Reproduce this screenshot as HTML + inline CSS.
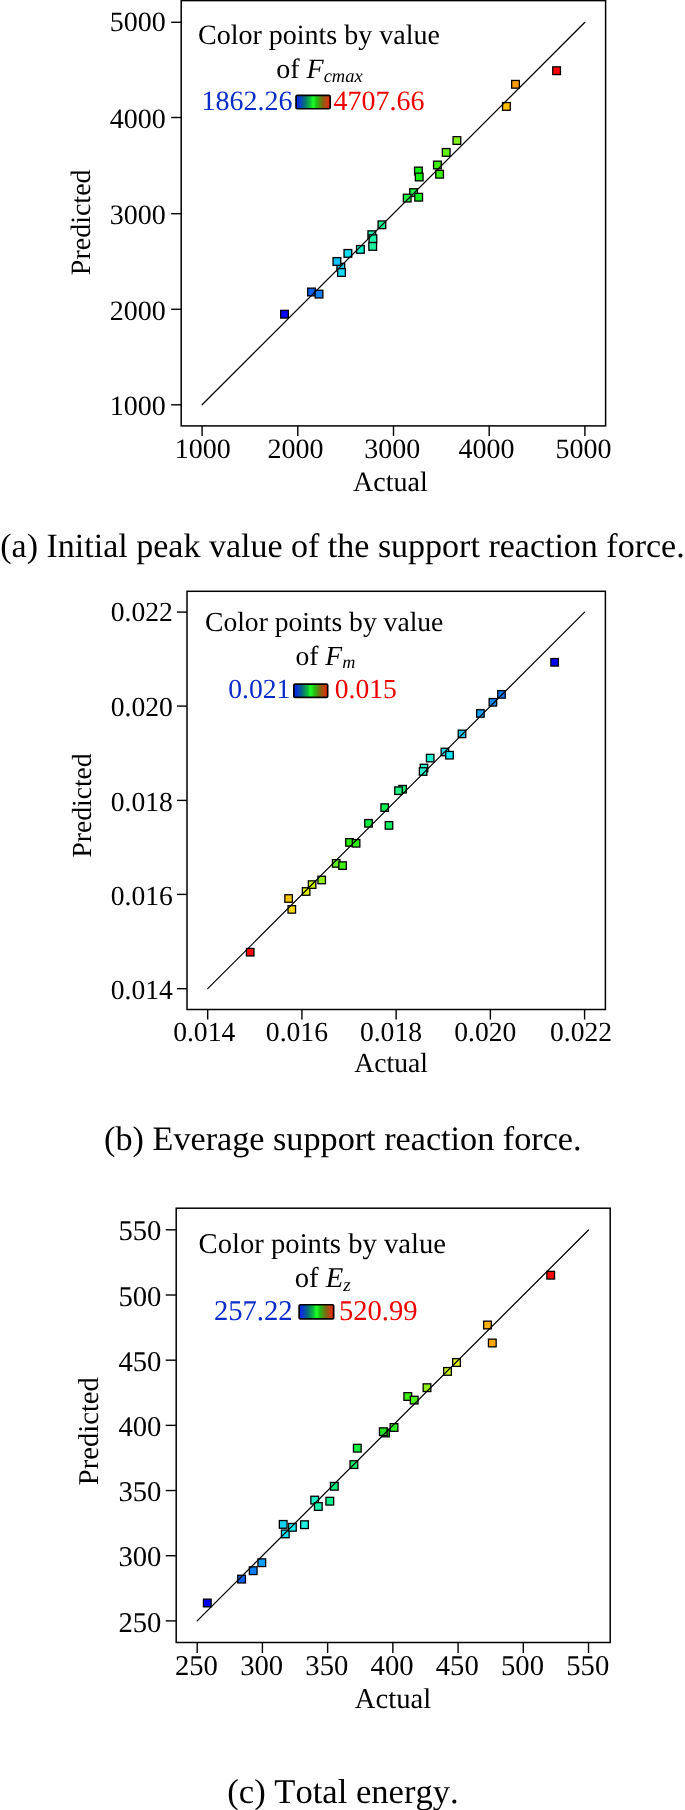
<!DOCTYPE html>
<html><head><meta charset="utf-8"><title>Predicted vs Actual</title>
<style>
html,body{margin:0;padding:0;background:#fff;}
body{width:685px;height:1810px;overflow:hidden;}
svg{display:block;will-change:transform;}
text{font-family:"Liberation Serif", serif;fill:#000;text-rendering:geometricPrecision;font-kerning:none;}
.k{stroke:#000;stroke-width:1.4;}
</style></head><body>
<svg width="685" height="1810" viewBox="0 0 685 1810">
<defs>
<linearGradient id="cg" x1="0" y1="0" x2="1" y2="0">
<stop offset="0" stop-color="#0626ee"/>
<stop offset="0.1" stop-color="#0838d0"/>
<stop offset="0.26" stop-color="#067274"/>
<stop offset="0.41" stop-color="#0cbc3c"/>
<stop offset="0.5" stop-color="#1cff26"/>
<stop offset="0.6" stop-color="#1ec414"/>
<stop offset="0.78" stop-color="#806412"/>
<stop offset="0.92" stop-color="#cc3c10"/>
<stop offset="1" stop-color="#ea2410"/>
</linearGradient>
</defs>
<rect width="685" height="1810" fill="#fff"/>
<line x1="202.1" y1="425.9" x2="202.1" y2="435.9" class="k"/>
<text x="202.8" y="458.2" font-size="28" text-anchor="middle">1000</text>
<line x1="297.8" y1="425.9" x2="297.8" y2="435.9" class="k"/>
<text x="295.5" y="458.2" font-size="28" text-anchor="middle">2000</text>
<line x1="393.5" y1="425.9" x2="393.5" y2="435.9" class="k"/>
<text x="392.2" y="458.2" font-size="28" text-anchor="middle">3000</text>
<line x1="489.2" y1="425.9" x2="489.2" y2="435.9" class="k"/>
<text x="486.4" y="458.2" font-size="28" text-anchor="middle">4000</text>
<line x1="584.9" y1="425.9" x2="584.9" y2="435.9" class="k"/>
<text x="583.6" y="458.2" font-size="28" text-anchor="middle">5000</text>
<line x1="171.2" y1="22.3" x2="181.2" y2="22.3" class="k"/>
<text x="165.8" y="30.7" font-size="28" text-anchor="end">5000</text>
<line x1="171.2" y1="117.5" x2="181.2" y2="117.5" class="k"/>
<text x="165.8" y="127.7" font-size="28" text-anchor="end">4000</text>
<line x1="171.2" y1="213.7" x2="181.2" y2="213.7" class="k"/>
<text x="165.8" y="223.9" font-size="28" text-anchor="end">3000</text>
<line x1="171.2" y1="309.3" x2="181.2" y2="309.3" class="k"/>
<text x="165.8" y="319.5" font-size="28" text-anchor="end">2000</text>
<line x1="171.2" y1="404.8" x2="181.2" y2="404.8" class="k"/>
<text x="165.8" y="415" font-size="28" text-anchor="end">1000</text>
<text x="390.4" y="490.6" font-size="28" text-anchor="middle">Actual</text>
<text transform="translate(90.3,222.3) rotate(-90)" font-size="28" text-anchor="middle">Predicted</text>
<text x="198" y="44.4" font-size="28">Color points by value</text>
<text x="276.2" y="78" font-size="28">of <tspan font-style="italic">F</tspan><tspan font-style="italic" font-size="18.5" dy="3.5">cmax</tspan></text>
<text x="201.4" y="110" font-size="28" style="fill:#0a2cc8">1862.26</text>
<text x="333.4" y="110" font-size="28" style="fill:#ee0000">4707.66</text>
<rect x="296.05" y="95.45" width="34.1" height="13.3" rx="1.2" fill="url(#cg)" stroke="#000" stroke-width="1.7"/>
<rect x="280.65" y="310.35" width="7.7" height="7.7" fill="#0000f0" stroke="#000" stroke-width="1.3"/>
<rect x="307.65" y="288.15" width="7.7" height="7.7" fill="#1060f0" stroke="#000" stroke-width="1.3"/>
<rect x="315.15" y="290.25" width="7.7" height="7.7" fill="#1080ff" stroke="#000" stroke-width="1.3"/>
<rect x="336.95" y="263.35" width="7.7" height="7.7" fill="#10c8f0" stroke="#000" stroke-width="1.3"/>
<rect x="333.05" y="257.65" width="7.7" height="7.7" fill="#10c0f8" stroke="#000" stroke-width="1.3"/>
<rect x="337.65" y="268.65" width="7.7" height="7.7" fill="#10d8f8" stroke="#000" stroke-width="1.3"/>
<rect x="344.05" y="249.55" width="7.7" height="7.7" fill="#10e0f8" stroke="#000" stroke-width="1.3"/>
<rect x="356.55" y="245.55" width="7.7" height="7.7" fill="#10f0d0" stroke="#000" stroke-width="1.3"/>
<rect x="367.95" y="230.85" width="7.7" height="7.7" fill="#20f0b0" stroke="#000" stroke-width="1.3"/>
<rect x="369.05" y="234.85" width="7.7" height="7.7" fill="#20f0a8" stroke="#000" stroke-width="1.3"/>
<rect x="368.85" y="242.55" width="7.7" height="7.7" fill="#20f0a0" stroke="#000" stroke-width="1.3"/>
<rect x="378.05" y="220.95" width="7.7" height="7.7" fill="#20f090" stroke="#000" stroke-width="1.3"/>
<rect x="409.75" y="188.75" width="7.7" height="7.7" fill="#20f040" stroke="#000" stroke-width="1.3"/>
<rect x="403.35" y="194.25" width="7.7" height="7.7" fill="#20f040" stroke="#000" stroke-width="1.3"/>
<rect x="414.85" y="193.35" width="7.7" height="7.7" fill="#10f020" stroke="#000" stroke-width="1.3"/>
<rect x="414.55" y="167.15" width="7.7" height="7.7" fill="#10f010" stroke="#000" stroke-width="1.3"/>
<rect x="415.35" y="173.15" width="7.7" height="7.7" fill="#10f010" stroke="#000" stroke-width="1.3"/>
<rect x="433.55" y="161.15" width="7.7" height="7.7" fill="#40f010" stroke="#000" stroke-width="1.3"/>
<rect x="435.75" y="170.35" width="7.7" height="7.7" fill="#40f010" stroke="#000" stroke-width="1.3"/>
<rect x="442.35" y="148.55" width="7.7" height="7.7" fill="#60f010" stroke="#000" stroke-width="1.3"/>
<rect x="453.05" y="136.65" width="7.7" height="7.7" fill="#80f020" stroke="#000" stroke-width="1.3"/>
<rect x="502.55" y="102.55" width="7.7" height="7.7" fill="#ffc000" stroke="#000" stroke-width="1.3"/>
<rect x="511.65" y="80.45" width="7.7" height="7.7" fill="#ff9900" stroke="#000" stroke-width="1.3"/>
<rect x="552.75" y="66.85" width="7.7" height="7.7" fill="#ff0000" stroke="#000" stroke-width="1.3"/>
<line x1="202.1" y1="404.8" x2="584.9" y2="22.3" stroke="#000" stroke-width="1.25" stroke-linecap="round"/>
<rect x="181.2" y="0.6" width="424.4" height="425.3" fill="none" stroke="#000" stroke-width="1.5"/>
<text x="342.5" y="556.5" font-size="34" text-anchor="middle">(a) Initial peak value of the support reaction force.</text>
<line x1="207.7" y1="1009.5" x2="207.7" y2="1019.5" class="k"/>
<text x="204.2" y="1040.6" font-size="27.6" text-anchor="middle">0.014</text>
<line x1="301.92" y1="1009.5" x2="301.92" y2="1019.5" class="k"/>
<text x="296.92" y="1040.6" font-size="27.6" text-anchor="middle">0.016</text>
<line x1="396.14" y1="1009.5" x2="396.14" y2="1019.5" class="k"/>
<text x="390.94" y="1040.6" font-size="27.6" text-anchor="middle">0.018</text>
<line x1="490.36" y1="1009.5" x2="490.36" y2="1019.5" class="k"/>
<text x="485.36" y="1040.6" font-size="27.6" text-anchor="middle">0.020</text>
<line x1="584.58" y1="1009.5" x2="584.58" y2="1019.5" class="k"/>
<text x="581.08" y="1040.6" font-size="27.6" text-anchor="middle">0.022</text>
<line x1="177" y1="612.1" x2="187" y2="612.1" class="k"/>
<text x="172.8" y="620.7" font-size="27.6" text-anchor="end">0.022</text>
<line x1="177" y1="706.1" x2="187" y2="706.1" class="k"/>
<text x="172.8" y="716.3" font-size="27.6" text-anchor="end">0.020</text>
<line x1="177" y1="800.4" x2="187" y2="800.4" class="k"/>
<text x="172.8" y="810.6" font-size="27.6" text-anchor="end">0.018</text>
<line x1="177" y1="894.4" x2="187" y2="894.4" class="k"/>
<text x="172.8" y="904.6" font-size="27.6" text-anchor="end">0.016</text>
<line x1="177" y1="988.7" x2="187" y2="988.7" class="k"/>
<text x="172.8" y="998.9" font-size="27.6" text-anchor="end">0.014</text>
<text x="391.1" y="1072.3" font-size="27.6" text-anchor="middle">Actual</text>
<text transform="translate(90.7,805.5) rotate(-90)" font-size="27.6" text-anchor="middle">Predicted</text>
<text x="205" y="631.2" font-size="27.6">Color points by value</text>
<text x="295.4" y="665.4" font-size="27.6">of <tspan font-style="italic">F</tspan><tspan font-style="italic" font-size="18.2" dy="2.9">m</tspan></text>
<text x="228.3" y="697.9" font-size="27.6" style="fill:#0a2cc8">0.021</text>
<text x="334.8" y="697.9" font-size="27.6" style="fill:#ee0000">0.015</text>
<rect x="293.85" y="684.15" width="33.8" height="13.3" rx="1.2" fill="url(#cg)" stroke="#000" stroke-width="1.7"/>
<rect x="246.45" y="948.45" width="7.5" height="7.5" fill="#ff0000" stroke="#000" stroke-width="1.3"/>
<rect x="284.85" y="894.75" width="7.5" height="7.5" fill="#ffc400" stroke="#000" stroke-width="1.3"/>
<rect x="288.05" y="905.65" width="7.5" height="7.5" fill="#ffd800" stroke="#000" stroke-width="1.3"/>
<rect x="302.35" y="887.75" width="7.5" height="7.5" fill="#e0f000" stroke="#000" stroke-width="1.3"/>
<rect x="308.35" y="880.85" width="7.5" height="7.5" fill="#c8f000" stroke="#000" stroke-width="1.3"/>
<rect x="317.95" y="876.25" width="7.5" height="7.5" fill="#90f010" stroke="#000" stroke-width="1.3"/>
<rect x="332.45" y="859.65" width="7.5" height="7.5" fill="#60f020" stroke="#000" stroke-width="1.3"/>
<rect x="338.85" y="861.85" width="7.5" height="7.5" fill="#40f010" stroke="#000" stroke-width="1.3"/>
<rect x="345.75" y="838.65" width="7.5" height="7.5" fill="#30f010" stroke="#000" stroke-width="1.3"/>
<rect x="352.35" y="839.55" width="7.5" height="7.5" fill="#30f010" stroke="#000" stroke-width="1.3"/>
<rect x="364.75" y="819.55" width="7.5" height="7.5" fill="#10f040" stroke="#000" stroke-width="1.3"/>
<rect x="380.95" y="803.85" width="7.5" height="7.5" fill="#10f050" stroke="#000" stroke-width="1.3"/>
<rect x="385.25" y="821.65" width="7.5" height="7.5" fill="#10f060" stroke="#000" stroke-width="1.3"/>
<rect x="398.85" y="785.45" width="7.5" height="7.5" fill="#20f070" stroke="#000" stroke-width="1.3"/>
<rect x="394.75" y="786.95" width="7.5" height="7.5" fill="#20f080" stroke="#000" stroke-width="1.3"/>
<rect x="420.25" y="764.25" width="7.5" height="7.5" fill="#30f0d0" stroke="#000" stroke-width="1.3"/>
<rect x="419.35" y="767.75" width="7.5" height="7.5" fill="#30f0d0" stroke="#000" stroke-width="1.3"/>
<rect x="426.45" y="754.35" width="7.5" height="7.5" fill="#20f0d0" stroke="#000" stroke-width="1.3"/>
<rect x="441.15" y="748.25" width="7.5" height="7.5" fill="#20e0f0" stroke="#000" stroke-width="1.3"/>
<rect x="445.75" y="751.45" width="7.5" height="7.5" fill="#10e8f8" stroke="#000" stroke-width="1.3"/>
<rect x="458.25" y="730.15" width="7.5" height="7.5" fill="#20c0f0" stroke="#000" stroke-width="1.3"/>
<rect x="476.65" y="709.65" width="7.5" height="7.5" fill="#10a0f8" stroke="#000" stroke-width="1.3"/>
<rect x="489.15" y="698.55" width="7.5" height="7.5" fill="#1888f8" stroke="#000" stroke-width="1.3"/>
<rect x="497.75" y="690.65" width="7.5" height="7.5" fill="#1078f8" stroke="#000" stroke-width="1.3"/>
<rect x="550.85" y="658.55" width="7.5" height="7.5" fill="#0000ff" stroke="#000" stroke-width="1.3"/>
<line x1="207.7" y1="988.7" x2="584.6" y2="612.1" stroke="#000" stroke-width="1.15" stroke-linecap="round"/>
<rect x="187" y="591.3" width="418.4" height="418.2" fill="none" stroke="#000" stroke-width="1.5"/>
<text x="342.85" y="1150" font-size="34.2" text-anchor="middle">(b) Everage support reaction force.</text>
<line x1="197.2" y1="1642.5" x2="197.2" y2="1653" class="k"/>
<text x="196.4" y="1674.8" font-size="28.65" text-anchor="middle">250</text>
<line x1="262.42" y1="1642.5" x2="262.42" y2="1653" class="k"/>
<text x="261.62" y="1674.8" font-size="28.65" text-anchor="middle">300</text>
<line x1="327.64" y1="1642.5" x2="327.64" y2="1653" class="k"/>
<text x="326.84" y="1674.8" font-size="28.65" text-anchor="middle">350</text>
<line x1="392.86" y1="1642.5" x2="392.86" y2="1653" class="k"/>
<text x="392.06" y="1674.8" font-size="28.65" text-anchor="middle">400</text>
<line x1="458.08" y1="1642.5" x2="458.08" y2="1653" class="k"/>
<text x="457.28" y="1674.8" font-size="28.65" text-anchor="middle">450</text>
<line x1="523.3" y1="1642.5" x2="523.3" y2="1653" class="k"/>
<text x="522.5" y="1674.8" font-size="28.65" text-anchor="middle">500</text>
<line x1="588.52" y1="1642.5" x2="588.52" y2="1653" class="k"/>
<text x="587.72" y="1674.8" font-size="28.65" text-anchor="middle">550</text>
<line x1="165.7" y1="1229.82" x2="176.2" y2="1229.82" class="k"/>
<text x="161.4" y="1240.42" font-size="28.65" text-anchor="end">550</text>
<line x1="165.7" y1="1295" x2="176.2" y2="1295" class="k"/>
<text x="161.4" y="1305.6" font-size="28.65" text-anchor="end">500</text>
<line x1="165.7" y1="1360.18" x2="176.2" y2="1360.18" class="k"/>
<text x="161.4" y="1370.78" font-size="28.65" text-anchor="end">450</text>
<line x1="165.7" y1="1425.36" x2="176.2" y2="1425.36" class="k"/>
<text x="161.4" y="1435.96" font-size="28.65" text-anchor="end">400</text>
<line x1="165.7" y1="1490.54" x2="176.2" y2="1490.54" class="k"/>
<text x="161.4" y="1501.14" font-size="28.65" text-anchor="end">350</text>
<line x1="165.7" y1="1555.72" x2="176.2" y2="1555.72" class="k"/>
<text x="161.4" y="1566.32" font-size="28.65" text-anchor="end">300</text>
<line x1="165.7" y1="1620.9" x2="176.2" y2="1620.9" class="k"/>
<text x="161.4" y="1631.5" font-size="28.65" text-anchor="end">250</text>
<text x="393" y="1708.4" font-size="28.65" text-anchor="middle">Actual</text>
<text transform="translate(97.7,1431.2) rotate(-90)" font-size="28.65" text-anchor="middle">Predicted</text>
<text x="198.6" y="1252.8" font-size="28.65">Color points by value</text>
<text x="294.8" y="1286.5" font-size="28.65">of <tspan font-style="italic">E</tspan><tspan font-style="italic" font-size="19" dy="4.8">z</tspan></text>
<text x="213.9" y="1320.2" font-size="28.65" style="fill:#0a2cc8">257.22</text>
<text x="338.9" y="1320.2" font-size="28.65" style="fill:#ee0000">520.99</text>
<rect x="299.15" y="1304.75" width="34.5" height="14.1" rx="1.2" fill="url(#cg)" stroke="#000" stroke-width="1.7"/>
<rect x="203.45" y="1599.15" width="7.7" height="7.7" fill="#0000f0" stroke="#000" stroke-width="1.3"/>
<rect x="237.75" y="1575.25" width="7.7" height="7.7" fill="#1060f0" stroke="#000" stroke-width="1.3"/>
<rect x="249.35" y="1566.85" width="7.7" height="7.7" fill="#1080f8" stroke="#000" stroke-width="1.3"/>
<rect x="257.95" y="1558.85" width="7.7" height="7.7" fill="#10a0f8" stroke="#000" stroke-width="1.3"/>
<rect x="279.35" y="1520.55" width="7.7" height="7.7" fill="#18d0f0" stroke="#000" stroke-width="1.3"/>
<rect x="281.45" y="1530.05" width="7.7" height="7.7" fill="#18e0f8" stroke="#000" stroke-width="1.3"/>
<rect x="288.55" y="1523.45" width="7.7" height="7.7" fill="#18f0f8" stroke="#000" stroke-width="1.3"/>
<rect x="300.65" y="1520.85" width="7.7" height="7.7" fill="#20f0e0" stroke="#000" stroke-width="1.3"/>
<rect x="310.85" y="1496.25" width="7.7" height="7.7" fill="#20f0c8" stroke="#000" stroke-width="1.3"/>
<rect x="314.45" y="1502.65" width="7.7" height="7.7" fill="#20f0b0" stroke="#000" stroke-width="1.3"/>
<rect x="325.95" y="1497.35" width="7.7" height="7.7" fill="#10f090" stroke="#000" stroke-width="1.3"/>
<rect x="330.45" y="1482.45" width="7.7" height="7.7" fill="#10f080" stroke="#000" stroke-width="1.3"/>
<rect x="350.05" y="1460.75" width="7.7" height="7.7" fill="#10f060" stroke="#000" stroke-width="1.3"/>
<rect x="353.45" y="1444.35" width="7.7" height="7.7" fill="#10f040" stroke="#000" stroke-width="1.3"/>
<rect x="381.65" y="1429.15" width="7.7" height="7.7" fill="#10d010" stroke="#000" stroke-width="1.3"/>
<rect x="379.45" y="1427.85" width="7.7" height="7.7" fill="#20e020" stroke="#000" stroke-width="1.3"/>
<rect x="390.15" y="1423.65" width="7.7" height="7.7" fill="#30f020" stroke="#000" stroke-width="1.3"/>
<rect x="403.95" y="1392.65" width="7.7" height="7.7" fill="#40f010" stroke="#000" stroke-width="1.3"/>
<rect x="410.35" y="1396.25" width="7.7" height="7.7" fill="#50f010" stroke="#000" stroke-width="1.3"/>
<rect x="423.15" y="1383.85" width="7.7" height="7.7" fill="#90f010" stroke="#000" stroke-width="1.3"/>
<rect x="443.65" y="1367.55" width="7.7" height="7.7" fill="#c8f020" stroke="#000" stroke-width="1.3"/>
<rect x="452.65" y="1358.65" width="7.7" height="7.7" fill="#e0f020" stroke="#000" stroke-width="1.3"/>
<rect x="483.65" y="1321.15" width="7.7" height="7.7" fill="#ffb000" stroke="#000" stroke-width="1.3"/>
<rect x="488.45" y="1339.15" width="7.7" height="7.7" fill="#ffa800" stroke="#000" stroke-width="1.3"/>
<rect x="546.85" y="1271.35" width="7.7" height="7.7" fill="#ff0000" stroke="#000" stroke-width="1.3"/>
<line x1="197.2" y1="1620.9" x2="588.5" y2="1230" stroke="#000" stroke-width="1.25" stroke-linecap="round"/>
<rect x="176.2" y="1208.2" width="434" height="434.3" fill="none" stroke="#000" stroke-width="1.5"/>
<text x="343" y="1802.7" font-size="34.6" text-anchor="middle">(c) Total energy.</text>
</svg>
</body></html>
